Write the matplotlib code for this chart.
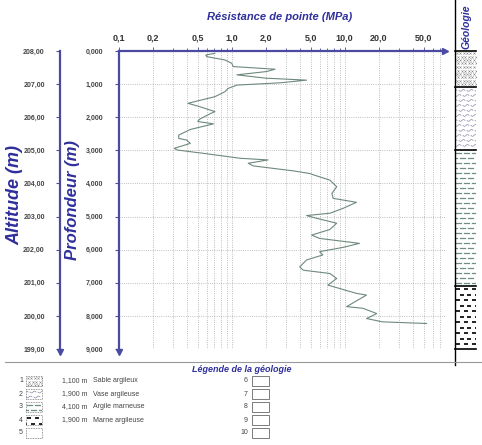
import numpy as np
import matplotlib
matplotlib.use('Agg')
import matplotlib.pyplot as plt
from matplotlib.lines import Line2D
from matplotlib.patches import Rectangle
from matplotlib.ticker import FuncFormatter, NullFormatter

# cone resistance profile (depth in m, qc in MPa)
depth = [0.07, 0.12, 0.17, 0.27, 0.37, 0.47, 0.55, 0.62, 0.72, 0.82, 0.88, 0.96,
         1.03, 1.13, 1.23, 1.38, 1.58, 1.68, 1.83, 1.90, 2.06, 2.13, 2.20, 2.37,
         2.54, 2.64, 2.69, 2.79, 2.94, 2.99, 3.09, 3.24, 3.29, 3.39, 3.47, 3.62,
         3.70, 3.75, 3.90, 4.10, 4.30, 4.45, 4.57, 4.75, 4.90, 4.97, 5.05, 5.20,
         5.39, 5.56, 5.66, 5.81, 5.93, 6.06, 6.16, 6.31, 6.52, 6.62, 6.72, 6.87,
         7.07, 7.32, 7.37, 7.72, 7.77, 7.93, 8.08, 8.18, 8.23]
qc = [0.71, 0.59, 0.60, 0.87, 1.00, 1.03, 2.42, 2.04, 1.11, 2.00, 4.60, 2.70,
      1.11, 0.93, 0.87, 0.71, 0.41, 0.52, 0.71, 0.64, 0.52, 0.50, 0.69, 0.43,
      0.34, 0.34, 0.40, 0.43, 0.31, 0.33, 0.56, 1.19, 2.10, 1.40, 1.55, 3.50,
      4.90, 5.40, 7.40, 8.50, 7.70, 7.90, 12.7, 9.70, 7.40, 4.60, 5.60, 8.50,
      7.40, 5.10, 6.00, 13.5, 9.70, 6.00, 6.40, 4.60, 4.00, 4.30, 7.40, 8.50,
      7.10, 12.7, 15.6, 10.4, 14.5, 19.2, 15.6, 21.6, 53.0]

x_ticks = [0.1, 0.2, 0.5, 1, 2, 5, 10, 20, 50]
x_labels = ['0,1', '0,2', '0,5', '1,0', '2,0', '5,0', '10,0', '20,0', '50,0']
depth_ticks = list(range(0, 10))
altitude_ticks = list(range(199, 209))

layer_tops = [0.0, 1.1, 3.0, 7.1]
layer_thick = [1.1, 1.9, 4.1, 1.9]
layer_names = ['Sable argileux', 'Vase argileuse', 'Argile marneuse', 'Marne argileuse']
layer_kinds = ['sable', 'vase', 'argile', 'marne']

W, H = 482, 445
BLUE = '#2f2f9c'
AXBLUE = '#4a4aa0'


def fx(x):
    return x / W


def fy(y):
    return 1 - y / H


def px_axes(x0, y0, w, h):
    # axes placed in pixel coords (top-left origin), data units = pixels
    a = fig.add_axes([fx(x0), fy(y0 + h), w / W, h / H])
    a.set_xlim(0, w)
    a.set_ylim(h, 0)
    a.axis('off')
    return a


def draw_pattern(a, kind, w, h):
    if kind == 'sable':
        for r, yy in enumerate(np.arange(2, h, 3.5)):
            off = 0 if r % 2 == 0 else 1.75
            xs = np.arange(1.5 + off, w, 3.5)
            a.plot(xs, [yy] * len(xs), ls='none', marker='x', ms=1.6, mew=0.4, color='#8a8a8a')
    elif kind == 'vase':
        for r, yy in enumerate(np.arange(3, h, 5)):
            off = 0 if r % 2 == 0 else 4
            for x0 in np.arange(-4 + off, w, 8):
                t = np.linspace(0, 6, 13)
                a.plot(x0 + t, yy + 0.9 * np.sin(t / 6 * 2 * np.pi), color='#8a8aa8', lw=0.5)
    elif kind == 'argile':
        for r, yy in enumerate(np.arange(3, h, 5)):
            off = 0 if r % 2 == 0 else 4
            for x0 in np.arange(1 + off - 8, w, 8):
                a.plot([x0, x0 + 2], [yy, yy], color='#6f8f80', lw=0.9)
                a.plot([x0 + 3, x0 + 5], [yy, yy], color='#6f8f80', lw=0.9)
    elif kind == 'marne':
        for r, yy in enumerate(np.arange(3, h, 5.5)):
            off = 0 if r % 2 == 0 else 3.5
            for x0 in np.arange(1 + off - 8, w, 8):
                a.plot([x0, x0 + 4], [yy, yy], color='#111111', lw=1.3, solid_capstyle='butt')


plt.rcParams['font.family'] = ['Liberation Sans', 'DejaVu Sans']

fig = plt.figure(figsize=(W / 100, H / 100), dpi=100)

y_top, y_bot = 51, 349
ppm = (y_bot - y_top) / 9.0

# main plot
ax = fig.add_axes([fx(118.7), fy(y_bot), fx(445 - 118.7), (y_bot - y_top) / H])
ax.set_xscale('log')
ax.set_xlim(0.1, 10 ** (-1 + (445 - 118.7) / 113))
ax.set_ylim(9, 0)
ax.plot(qc, depth, color='#6d8a7c', lw=0.8)
ax.xaxis.tick_top()
ax.set_xticks(x_ticks)
ax.set_xticklabels(x_labels, fontsize=6.5, fontweight='bold', color='#333333')
ax.xaxis.set_minor_formatter(NullFormatter())
ax.tick_params(axis='x', which='both', direction='out', length=3, width=0.6,
               color=AXBLUE, pad=3)
ax.tick_params(axis='x', which='minor', length=2)
ax.set_yticks(depth_ticks)
ax.yaxis.set_major_formatter(FuncFormatter(lambda v, p: '%d,000' % v))
ax.tick_params(axis='y', direction='out', length=3, width=0.8, color=AXBLUE,
               labelsize=5, pad=8, labelcolor='#444444')
for t in ax.get_yticklabels():
    t.set_fontweight('bold')
ax.grid(True, which='both', axis='x', color='#aaaaaa', ls=':', lw=0.6)
ax.grid(True, which='major', axis='y', color='#aaaaaa', ls=':', lw=0.6)
for s in ['right', 'bottom']:
    ax.spines[s].set_visible(False)
for s in ['left', 'top']:
    ax.spines[s].set_color(AXBLUE)
    ax.spines[s].set_linewidth(1.6)
ax.plot(1.0, 1.0, '>', color=AXBLUE, ms=4, transform=ax.transAxes, clip_on=False)
ax.plot(0.0, -0.01, 'v', color=AXBLUE, ms=4, transform=ax.transAxes, clip_on=False)

# altitude axis
ax2 = fig.add_axes([fx(60), fy(y_bot), 0.001, (y_bot - y_top) / H])
ax2.set_ylim(199, 208)
ax2.set_xticks([])
ax2.set_yticks(altitude_ticks)
ax2.yaxis.set_major_formatter(FuncFormatter(lambda v, p: '%d,00' % v))
ax2.tick_params(axis='y', direction='out', length=3, width=0.8, color=AXBLUE,
                labelsize=5, pad=8, labelcolor='#444444')
for t in ax2.get_yticklabels():
    t.set_fontweight('bold')
for s in ['right', 'bottom', 'top']:
    ax2.spines[s].set_visible(False)
ax2.spines['left'].set_color(AXBLUE)
ax2.spines['left'].set_linewidth(1.6)
ax2.plot(0.0, -0.01, 'v', color=AXBLUE, ms=4, transform=ax2.transAxes, clip_on=False)

# titles
fig.text(fx(280), fy(17), 'Résistance de pointe (MPa)', ha='center', va='center',
         fontsize=8, fontstyle='italic', fontweight='bold', color=BLUE)
fig.text(fx(15), fy(195), 'Altitude (m)', ha='center', va='center', rotation=90,
         fontsize=13, fontstyle='italic', fontweight='bold', color=BLUE)
fig.text(fx(72), fy(200), 'Profondeur (m)', ha='center', va='center', rotation=90,
         fontsize=12, fontstyle='italic', fontweight='bold', color=BLUE)

# geology column
for top, th, kind in zip(layer_tops, layer_thick, layer_kinds):
    y0 = y_top + top * ppm
    h = th * ppm
    ag = px_axes(455, y0, 21, h)
    draw_pattern(ag, kind, 21, h)
    fig.add_artist(Line2D([fx(455), fx(476)], [fy(y0), fy(y0)], color='black', lw=1.2))
fig.add_artist(Line2D([fx(455), fx(476)], [fy(y_bot), fy(y_bot)], color='black', lw=1.2))
fig.add_artist(Line2D([fx(455), fx(455)], [fy(0), fy(365)], color='black', lw=1.0))
fig.text(fx(467), fy(49), 'Géologie', rotation=90, ha='center', va='bottom',
         fontsize=7.5, fontstyle='italic', fontweight='bold', color=BLUE)

# legend
fig.add_artist(Line2D([fx(5), fx(482)], [fy(362), fy(362)], color='#999999', lw=0.8))
fig.text(fx(242), fy(370), 'Légende de la géologie', ha='center', va='center',
         fontsize=6.5, fontstyle='italic', fontweight='bold', color=BLUE)
row_y = [381, 394, 407, 420, 433]
for i, yy in enumerate(row_y):
    fig.text(fx(23), fy(yy), str(i + 1), ha='right', va='center', fontsize=5, color='#444444')
    bx = px_axes(26, yy - 5, 16, 10)
    if i < 4:
        draw_pattern(bx, layer_kinds[i], 16, 10)
    fig.add_artist(Rectangle((fx(26), fy(yy + 5)), fx(16), 10 / H, transform=fig.transFigure,
                             facecolor='none', edgecolor='#777777', lw=0.6, ls=(0, (1, 1))))
    if i < 4:
        fig.text(fx(62), fy(yy), ('%.3f m' % layer_thick[i]).replace('.', ','),
                 ha='left', va='center', fontsize=5, color='#444444')
        fig.text(fx(93), fy(yy), layer_names[i], ha='left', va='center',
                 fontsize=5, color='#444444')
    fig.text(fx(248), fy(yy), str(i + 6), ha='right', va='center', fontsize=5, color='#444444')
    fig.add_artist(Rectangle((fx(252), fy(yy + 5)), fx(17), 10 / H, transform=fig.transFigure,
                             facecolor='white', edgecolor='#666666', lw=0.6))

fig.savefig('out.png', dpi=100)
